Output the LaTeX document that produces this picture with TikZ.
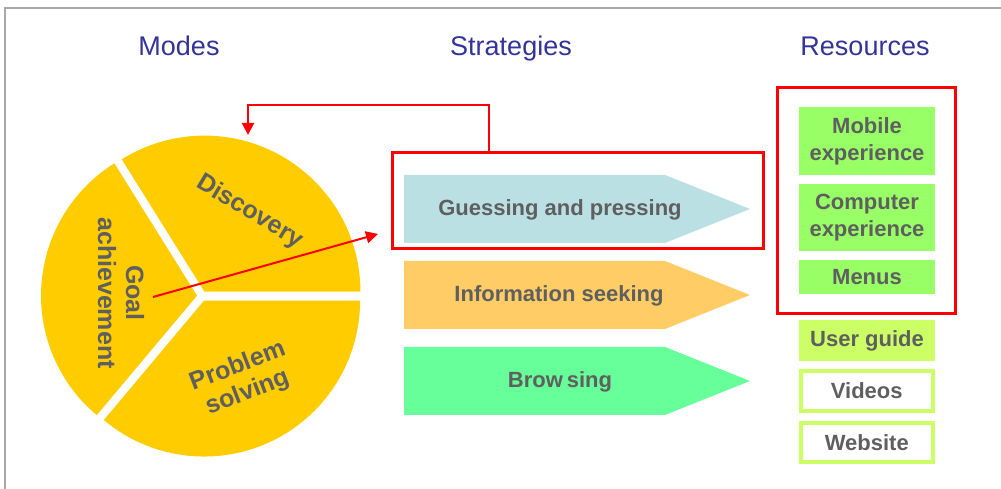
\documentclass[tikz,border=0pt]{standalone}
\usepackage{fontspec}
\setmainfont{Liberation Sans}
\usetikzlibrary{arrows.meta}
\definecolor{pieyellow}{HTML}{FFCC00}
\definecolor{labelgray}{HTML}{5F5F5F}
\definecolor{headblue}{HTML}{333399}
\definecolor{guessfill}{HTML}{BBE0E3}
\definecolor{infofill}{HTML}{FFCC66}
\definecolor{browsefill}{HTML}{66FF99}
\definecolor{resgreen}{HTML}{99FF66}
\definecolor{guidegreen}{HTML}{CCFF66}
\definecolor{framegray}{HTML}{A8A8A8}
\tikzset{
	lbl/.style={text=labelgray, font=\fontsize{22}{27}\selectfont\bfseries, align=center, inner sep=0pt},
	pielbl/.style={lbl, font=\fontsize{25}{28}\selectfont\bfseries},
	head/.style={text=headblue, font=\fontsize{27}{30}\selectfont, anchor=base, inner sep=0pt},
	redbox/.style={draw=red, line width=3pt},
	redarrow/.style={red, line width=2pt, -{Triangle[length=12pt,width=12pt]}},
	res/.style={lbl, minimum width=135.5pt},
}
\begin{document}
\begin{tikzpicture}[x=1pt, y=1pt]
					\useasboundingbox (0,0) rectangle (1001,489);
					\draw[framegray, line width=2pt] (5,0) -- (5,481) -- (1001,481);
					\node[head] (modes) at (179,433) {Modes};
					\node[head] (strategies) at (511,433) {Strategies};
					\node[head] (resources) at (865,433) {Resources};
					% pie of modes
					\foreach \a/\b/\m in {0/122/61, 122/230/176, 230/360/295}
						\fill[pieyellow, shift={(\m:5)}] (202,193) -- ++(\a:156) arc[start angle=\a, end angle=\b, radius=156] -- cycle;
					\node[pielbl, rotate=-31] (discovery) at (250,277) {Discovery};
					\node[pielbl, rotate=-90] (goal) at (121,196) {Goal\\achievement};
					\node[pielbl, rotate=21] (problem) at (243,109) {Problem\\solving};
					% strategies
					\foreach \yc/\col in {280/guessfill, 194/infofill, 108/browsefill}
						\fill[\col] (404,\yc+34) -- (665,\yc+34) -- (750,\yc) -- (665,\yc-34) -- (404,\yc-34) -- cycle;
					\node[lbl] (guess) at (560,279) {Guessing and pressing};
					\node[lbl] (info) at (559,193) {Information seeking};
					\node[lbl] (browse) at (560,107) {Brow\kern4pt sing};
					\node[redbox, minimum width=371pt, minimum height=96pt] (gbox) at (577.5,288) {};
					% resources
					\node[res, fill=resgreen, minimum height=67.5pt] (mobile) at (867,347.75) {Mobile\\experience};
					\node[res, fill=resgreen, minimum height=67pt] (computer) at (867,271.5) {Computer\\experience};
					\node[res, fill=resgreen, minimum height=33.5pt] (menus) at (867,211.75) {Menus};
					\node[res, fill=guidegreen, minimum height=41pt] (guide) at (867,148.5) {User guide};
					\node[res, draw=guidegreen, line width=4pt, minimum width=132.5pt, minimum height=40pt] (videos) at (866.75,98) {Videos};
					\node[res, draw=guidegreen, line width=4pt, minimum width=132.5pt, minimum height=39.5pt] (website) at (866.75,46.7) {Website};
					\node[redbox, minimum width=178pt, minimum height=226pt] (rbox) at (866,288) {};
					% red pointers
					\coordinate (loopx) at (489,0);
					\coordinate (bend) at (248,384);
					\coordinate (disctop) at (248,354);
					\draw[redarrow] (gbox.north -| loopx) |- (bend) -- (disctop);
					\coordinate (goalpt) at (153,192);
					\coordinate (ptr) at (378,255);
					\draw[redarrow] (goalpt) -- (ptr);
				\end{tikzpicture}
\end{document}
